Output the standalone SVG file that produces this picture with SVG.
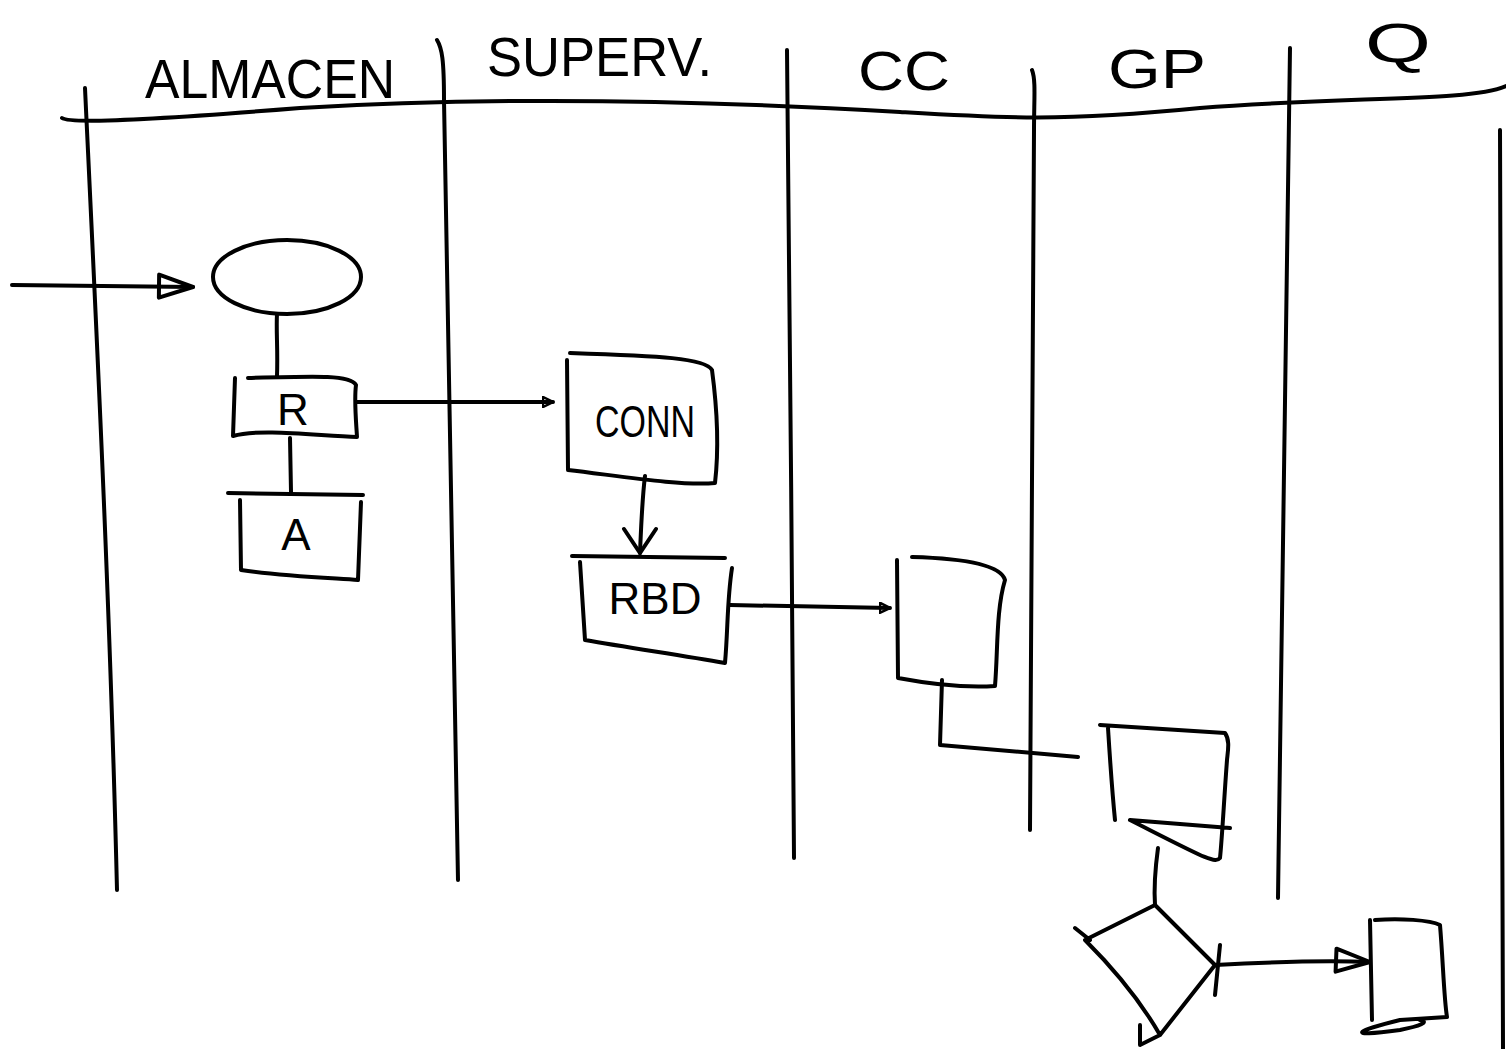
<svg xmlns="http://www.w3.org/2000/svg" width="1506" height="1049" viewBox="0 0 1506 1049">
<style>
.s{fill:none;stroke:#000;stroke-width:4;stroke-linecap:round;stroke-linejoin:round}
.t{font-family:"Liberation Sans","DejaVu Sans",sans-serif;fill:#000}
.h{font-size:56px}
.n{font-size:44px}
</style>
<defs>
<marker id="tri" viewBox="0 0 12 12" refX="11" refY="6" markerWidth="12" markerHeight="12" markerUnits="userSpaceOnUse" orient="auto">
<path d="M1,1 L11,6 L1,11 Z" fill="none" stroke="#000" stroke-width="2.5"/>
</marker>
<marker id="big" viewBox="0 0 40 30" refX="38" refY="15" markerWidth="40" markerHeight="30" markerUnits="userSpaceOnUse" orient="auto">
<path d="M4,3 L38,15 L4,26 Z" fill="none" stroke="#000" stroke-width="4" stroke-linejoin="round"/>
</marker>
<marker id="vee" viewBox="0 0 40 30" refX="20" refY="28" markerWidth="40" markerHeight="30" markerUnits="userSpaceOnUse" orient="0">
<path d="M4,4 L20,28 L36,4" fill="none" stroke="#000" stroke-width="4" stroke-linecap="round"/>
</marker>
</defs>
<rect width="1506" height="1049" fill="#fff"/>
<g id="lanes">
<path class="s" d="M62,118 C70,124 150,120 300,108 C500,96 700,100 900,112 C1000,118 1060,122 1200,108 C1350,96 1470,102 1506,86"/>
<path class="s" d="M85,88 C95,300 110,600 117,890"/>
<path class="s" d="M437,40 C442,48 444,60 444,100 C447,400 455,700 458,880"/>
<path class="s" d="M787,50 C790,300 792,600 794,858"/>
<path class="s" d="M1032,70 C1036,80 1034,100 1034,130 C1032,400 1031,650 1030,830"/>
<path class="s" d="M1290,48 C1288,300 1282,600 1278,898"/>
<path class="s" d="M1500,130 C1502,400 1503,700 1503,1049"/>
<text class="t h" x="145" y="98" textLength="250" lengthAdjust="spacingAndGlyphs">ALMACEN</text>
<text class="t h" x="487" y="76" textLength="225" lengthAdjust="spacingAndGlyphs">SUPERV.</text>
<text class="t h" x="858" y="90" textLength="92" lengthAdjust="spacingAndGlyphs">CC</text>
<text class="t h" x="1108" y="88" textLength="98" lengthAdjust="spacingAndGlyphs">GP</text>
<text class="t h" x="1365" y="62" textLength="66" lengthAdjust="spacingAndGlyphs">Q</text>
</g>
<g id="start">
<ellipse class="s" cx="287" cy="277" rx="74" ry="37"/>
</g>
<g id="node-r">
<path class="s" d="M235,378 L233,436 C260,428 320,436 357,437 C356,420 354,400 356,385 C350,375 320,376 248,378"/>
<text class="t n" x="293" y="425" text-anchor="middle">R</text>
</g>
<g id="node-a">
<path class="s" d="M228,493 L363,495 M240,500 L241,570 C280,576 330,578 358,580 L361,502"/>
<text class="t n" x="296" y="550" text-anchor="middle">A</text>
</g>
<g id="node-conn">
<path class="s" d="M567,360 L568,470 C620,476 680,486 715,483 C720,440 716,400 712,370 C705,358 660,356 570,353"/>
<text class="t" font-size="44" x="645" y="437" text-anchor="middle" textLength="100" lengthAdjust="spacingAndGlyphs">CONN</text>
</g>
<g id="node-rbd">
<path class="s" d="M572,556 L725,558 M580,562 L585,640 C630,648 680,655 725,663 C728,630 727,600 732,568"/>
<text class="t n" x="655" y="614" text-anchor="middle">RBD</text>
</g>
<g id="node-cc">
<path class="s" d="M897,560 L898,678 C930,684 965,688 995,686 C998,650 996,610 1005,580 C1000,562 950,558 912,557"/>
</g>
<g id="node-gp">
<path class="s" d="M1100,725 L1225,733 C1230,740 1228,750 1227,760 C1224,800 1222,840 1220,858 C1215,864 1205,858 1130,820 L1230,828 M1108,728 C1110,760 1112,790 1115,820"/>
</g>
<g id="node-decision">
<path class="s" d="M1155,905 L1085,940 C1110,965 1140,1000 1160,1035 L1215,965 C1195,945 1175,925 1155,905 Z M1075,928 L1090,940 M1140,1025 L1140,1045 L1160,1035 M1220,945 L1215,995"/>
</g>
<g id="node-q">
<path class="s" d="M1370,920 L1372,1020 M1375,920 C1400,918 1430,920 1440,925 C1443,960 1444,1000 1447,1017 L1400,1020 C1360,1030 1340,1038 1400,1030 C1420,1026 1430,1022 1420,1020"/>
</g>
<g id="connectors">
<path class="s" d="M12,285 L193,287" marker-end="url(#big)"/>
<path class="s" d="M277,314 C276,330 278,350 277,376"/>
<path class="s" d="M290,438 L291,492"/>
<path class="s" d="M357,402 L553,402" marker-end="url(#tri)"/>
<path class="s" d="M645,476 C642,500 641,530 640,553" marker-end="url(#vee)"/>
<path class="s" d="M730,605 L890,608" marker-end="url(#tri)"/>
<path class="s" d="M942,680 L940,745 L1078,757"/>
<path class="s" d="M1158,848 C1155,870 1154,890 1155,905"/>
<path class="s" d="M1215,965 C1270,962 1320,960 1370,962" marker-end="url(#big)"/>
</g>
</svg>
